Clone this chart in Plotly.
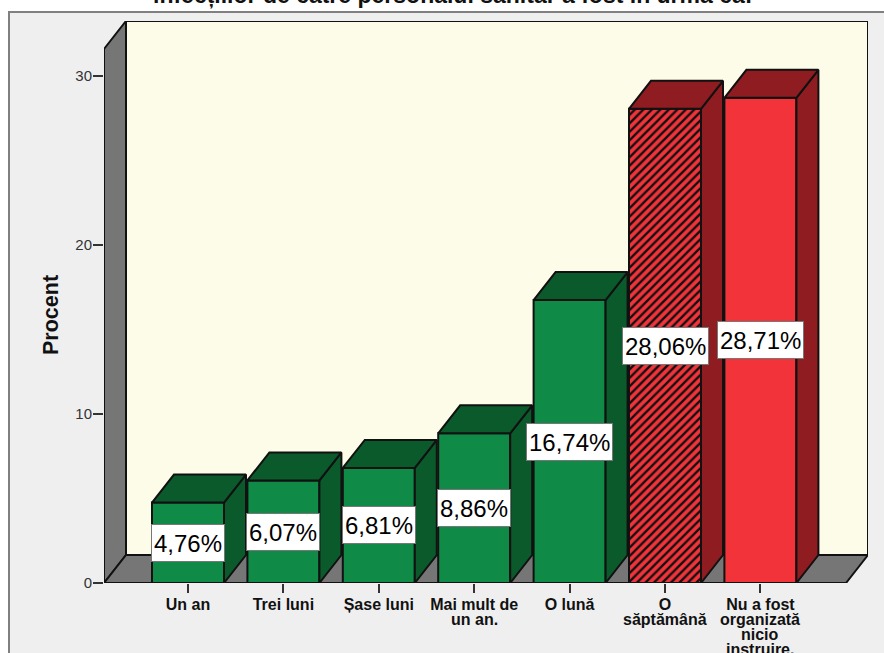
import plotly.graph_objects as go

categories = ["Un an", "Trei luni", "Șase luni", "Mai mult de", "O lună", "O", "Nu a fost"]
extra_lines = [[], [], [], ["un an."], [], ["săptămână"], ["organizată", "nicio", "instruire."]]
values = [4.76, 6.07, 6.81, 8.86, 16.74, 28.06, 28.71]
labels = ["4,76%", "6,07%", "6,81%", "8,86%", "16,74%", "28,06%", "28,71%"]
front_colors = ["#0f8a47"] * 5 + ["#f2333a", "#f2333a"]
dark_colors = ["#0b5a2b"] * 5 + ["#8e1c20", "#8e1c20"]
patterns = ["", "", "", "", "", "/", ""]
y_ticks = [0, 10, 20, 30]

W, H = 884, 653
L, R, T, B = 104, 868, 21, 583      # plot box in pixels
PX_X = 95.4                         # px per category
PX_Y = 16.9                         # px per percent
X0 = (L - 188) / PX_X
X1 = (R - 188) / PX_X
Y1 = (B - T) / PX_Y
DX = 22 / PX_X
DY = 28 / PX_Y
BW = 72 / PX_X
xs = list(range(len(values)))


def px(v):
    return (v - L) / (R - L)


def py(v):
    return (B - v) / (B - T)


def path(xv, yv):
    return "M " + " L ".join(f"{a:.4f} {b:.4f}" for a, b in zip(xv, yv)) + " Z"


fig = go.Figure()

# outer frame
fig.add_shape(type="rect", xref="paper", yref="paper", layer="below",
              x0=px(9), x1=px(W + 5), y0=py(H + 5), y1=py(12),
              fillcolor="#efefef", line=dict(color="#808080", width=2))

# walls and floor
for xv, yv, col in [
    ([X0 + DX, X1, X1, X0 + DX], [DY, DY, Y1, Y1], "#fdfce8"),
    ([X0, X0 + DX, X0 + DX, X0], [0, DY, Y1, Y1 - DY], "#767676"),
    ([X0, X1 - DX, X1, X0 + DX], [0, 0, DY, DY], "#767676"),
]:
    fig.add_shape(type="path", xref="x", yref="y", layer="below", path=path(xv, yv),
                  fillcolor=col, line=dict(color="#111111", width=2))

# front faces: one trace per bar so the hatch colour is honoured
for x, v, c, p in zip(xs, values, front_colors, patterns):
    fig.add_trace(go.Bar(
        x=[x], y=[v], width=BW,
        marker=dict(color=c, line=dict(color="#111111", width=2),
                    pattern=dict(shape=p, fgcolor="#111111", bgcolor=c, fgopacity=1,
                                 fillmode="overlay", size=6, solidity=0.4)),
        hoverinfo="skip", showlegend=False, cliponaxis=False))

# 3D faces of bars
for x, v, d in zip(xs, values, dark_colors):
    l, r = x - BW / 2, x + BW / 2
    for xv, yv in [([r, r + DX, r + DX, r, r], [0, DY, v + DY, v, 0]),
                   ([l, r, r + DX, l + DX, l], [v, v, v + DY, v + DY, v])]:
        fig.add_trace(go.Scatter(x=xv, y=yv, mode="lines", fill="toself", fillcolor=d,
                                 line=dict(color="#111111", width=2), hoverinfo="skip",
                                 showlegend=False, cliponaxis=False))

# value labels centred on the bar
for x, v, t in zip(xs, values, labels):
    fig.add_annotation(x=x, y=v / 2, text=t, showarrow=False, xref="x", yref="y",
                       font=dict(family="Liberation Sans", size=24, color="#000000"),
                       bgcolor="#ffffff", bordercolor="#777777", borderwidth=1, borderpad=2,
                       height=32)

# further lines of the category labels, at the source's tight line spacing
for x, lines in zip(xs, extra_lines):
    for i, t in enumerate(lines):
        fig.add_annotation(x=x, xref="x", yref="paper", y=py(604 + 15.3 * (i + 1)),
                           text=f"<b>{t}</b>", showarrow=False, yanchor="middle",
                           font=dict(family="Liberation Sans", size=16, color="#111111"))

# title, cut by the top of the picture as in the source
fig.add_annotation(xref="paper", yref="paper", x=px(452), y=py(-5),
                   text="<b>infecțiilor de către personalul sanitar a fost în urma ca:</b>",
                   showarrow=False, yanchor="middle",
                   font=dict(family="Liberation Sans", size=23, color="#111111"))
fig.add_annotation(xref="paper", yref="paper", x=px(51), y=py(315), xanchor="center",
                   text="<b>Procent</b>", textangle=-90, showarrow=False,
                   font=dict(family="Liberation Sans", size=21.5, color="#111111"))

fig.update_layout(
    width=W, height=H, paper_bgcolor="#ffffff", plot_bgcolor="rgba(0,0,0,0)",
    margin=dict(l=L, r=W - R, t=T, b=H - B, autoexpand=False),
    barmode="overlay", showlegend=False,
    xaxis=dict(range=[X0, X1], tickmode="array", tickvals=xs,
               ticktext=[f"<b>{c}</b>" for c in categories],
               ticks="outside", ticklen=9, tickcolor="#333333", tickwidth=2, showgrid=False,
               zeroline=False, showline=False, tickangle=0, ticklabelstandoff=-2,
               tickfont=dict(family="Liberation Sans", size=16, color="#111111")),
    yaxis=dict(range=[0, Y1], tickmode="array", tickvals=y_ticks, ticks="outside",
               ticklen=10, tickcolor="#333333", tickwidth=2, showgrid=False, zeroline=False,
               showline=False, ticklabelstandoff=-2,
               tickfont=dict(family="Liberation Sans", size=15, color="#333333")),
)
fig.write_html("out.html", config={"displayModeBar": False},
               post_script="document.body.style.margin='0';")
